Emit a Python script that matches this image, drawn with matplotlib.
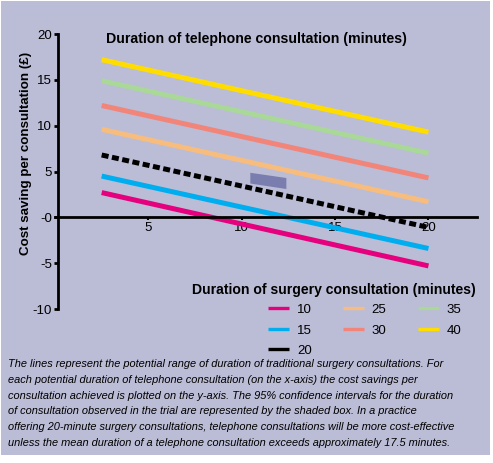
import numpy as np
import matplotlib.pyplot as plt
from matplotlib.patches import Rectangle, Polygon

plt.rcParams['font.family'] = ['Liberation Sans', 'DejaVu Sans']

# telephone consultation duration (minutes), endpoints of each line
tel_minutes = [2.5, 20]
surgery_minutes = ['10', '15', '20', '25', '30', '35', '40']
saving_start = [2.7, 4.5, 6.8, 9.6, 12.2, 14.9, 17.2]
saving_end = [-5.3, -3.4, -1.1, 1.7, 4.3, 7.0, 9.3]
line_colors = ['#e5007d', '#00aeef', '#000000', '#f7bd7e', '#f1857a', '#a9d899', '#ffdd00']

# shaded box: 95% CI of observed durations (corners, slanted with the lines)
box_x = [10.46, 12.39]
box_y_top = [4.86, 4.29]
box_y_bottom = [3.69, 3.09]

yticks = [-10, -5, 0, 5, 10, 15, 20]
ytick_labels = ['-10', '-5', '-0', '5', '10', '15', '20']
xticks = [5, 10, 15, 20]

bg = '#bbbcd6'
W, H = 493, 463
fig = plt.figure(figsize=(W / 100, H / 100), dpi=100, facecolor='white')
fig.patches.append(Rectangle((1 / W, 1 - 455 / H), 489 / W, 454 / H,
                             transform=fig.transFigure, facecolor=bg,
                             edgecolor='none', zorder=-10))

ax = fig.add_axes([55 / W, 1 - 309 / H, 422 / W, 275 / H])
ax.set_facecolor('none')

for i, lab in enumerate(surgery_minutes):
    ls = (0, (1.4, 0.7)) if lab == '20' else '-'
    ax.plot(tel_minutes, [saving_start[i], saving_end[i]], color=line_colors[i],
            lw=3.6, ls=ls, solid_capstyle='butt', dash_capstyle='butt',
            label=lab, zorder=3 if lab == '20' else 2)

ax.add_patch(Polygon([(box_x[0], box_y_top[0]), (box_x[1], box_y_top[1]),
                      (box_x[1], box_y_bottom[1]), (box_x[0], box_y_bottom[0])],
                     closed=True, facecolor='#7a7eae', edgecolor='none', zorder=4))

ax.set_xlim(0, 22.6)
ax.set_ylim(-10, 20)
for s in ['top', 'right']:
    ax.spines[s].set_visible(False)
ax.spines['bottom'].set_position(('data', 0))
ax.spines['left'].set_position(('data', 0.15))
ax.spines['left'].set_linewidth(2)
ax.spines['bottom'].set_linewidth(2)

ax.set_yticks(yticks)
ax.set_yticklabels(ytick_labels)
ax.set_xticks(xticks)
ax.set_xticklabels([str(v) for v in xticks])
ax.tick_params(axis='y', length=3, width=2, labelsize=9.5, pad=1)
ax.tick_params(axis='x', length=2, width=1.5, labelsize=9.5, pad=1, direction='out')

fig.text(26 / W, 1 - 153 / H, 'Cost saving per consultation (£)', fontsize=9.6,
         fontweight='bold', rotation=90, va='center', ha='center')

fig.text(106 / W, 1 - 39 / H, 'Duration of telephone consultation (minutes)',
         fontsize=10.2, fontweight='bold', va='center', ha='left')
fig.text(192 / W, 1 - 290 / H, 'Duration of surgery consultation (minutes)',
         fontsize=10.1, fontweight='bold', va='center', ha='left')

leg = ax.legend(loc='upper left', bbox_to_anchor=(256 / W, 1 - 292 / H),
                bbox_transform=fig.transFigure, ncol=3, frameon=False,
                fontsize=9.5, handlelength=1.6, handletextpad=0.6,
                columnspacing=2.35, labelspacing=0.62)
leg.get_lines()[2].set_linestyle('-')
for ln in leg.get_lines():
    ln.set_linewidth(2.4)

caption = ("The lines represent the potential range of duration of traditional surgery consultations. For\n"
           "each potential duration of telephone consultation (on the x-axis) the cost savings per\n"
           "consultation achieved is plotted on the y-axis. The 95% confidence intervals for the duration\n"
           "of consultation observed in the trial are represented by the shaded box. In a practice\n"
           "offering 20-minute surgery consultations, telephone consultations will be more cost-effective\n"
           "unless the mean duration of a telephone consultation exceeds approximately 17.5 minutes.")
fig.text(8 / W, 1 - 359 / H, caption, fontsize=7.9, style='italic',
         va='top', ha='left', linespacing=1.72)

fig.savefig('out.png', dpi=100, facecolor='white')
